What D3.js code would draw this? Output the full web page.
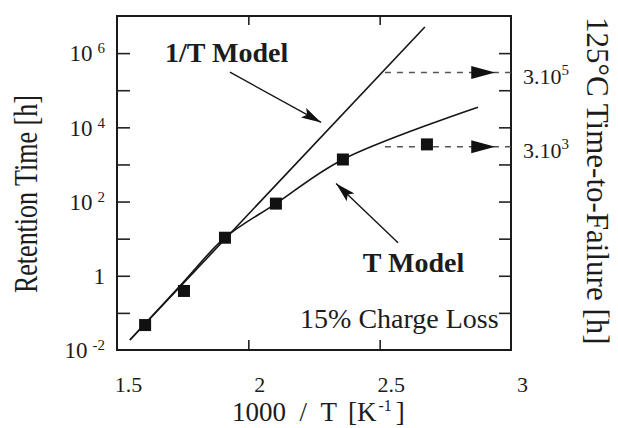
<!DOCTYPE html>
<html>
<head>
<meta charset="utf-8">
<script src="https://cdn.jsdelivr.net/npm/d3@7/dist/d3.min.js"></script>
<style>
  body { margin: 0; background: #fff; }
  svg text { font-family: "Liberation Serif", "Times New Roman", serif; fill: #1c1c1c; }
</style>
</head>
<body>
<script>
// measured retention times (squares), x = 1000/T
var measX = [1.607, 1.755, 1.911, 2.105, 2.360, 2.680];
var measY = [0.047, 0.39, 10.6, 88, 1360, 3470];

// T model fit
var tModelX = [1.549, 1.747, 1.911, 2.105, 2.360, 2.874];
var tModelY = [0.0186, 0.608, 10.6, 88, 1360, 34800];

// 1/T model fit (straight on this plot)
var invTX = [1.549, 2.672];
var invTY = [0.0186, 5.05e6];

var xTicks = [1.5, 2, 2.5, 3];
var xInnerTicks = [2, 2.5];
var yTickExp = [-1, 0, 1, 2, 3, 4, 5, 6];
var yLabelExp = [-2, 0, 2, 4, 6];

// 125C time-to-failure levels on the right
var failTimes = [3e5, 3e3];
var failBase = ["3.10", "3.10"];
var failSup = ["5", "3"];
var failStartX = 2.52, failHeadX = 2.94;

// annotation anchors, in data units
var notes = [
  {text: "1/T Model", x: 1.683, y: 5.7e5, bold: true},
  {text: "T Model", x: 2.436, y: 1.28, bold: true},
  {text: "15% Charge Loss", x: 2.197, y: 0.039, bold: false}
];
var pointers = [
  {from: [1.930, 3.06e5], to: [2.277, 1.36e4]},
  {from: [2.570, 7.8], to: [2.334, 306]}
];

var margin = {top: 16, right: 107, bottom: 78, left: 117},
    width = 618 - margin.left - margin.right,
    height = 428 - margin.top - margin.bottom;

var root = d3.select("body").append("svg")
    .attr("width", 618)
    .attr("height", 428);

var defs = root.append("defs");
defs.append("marker")
    .attr("id", "head")
    .attr("viewBox", "0 -6 20 12")
    .attr("refX", 20).attr("refY", 0)
    .attr("markerWidth", 20).attr("markerHeight", 12)
    .attr("markerUnits", "userSpaceOnUse")
    .attr("orient", "auto")
  .append("path")
    .attr("d", "M0,-5.5L20,0L0,5.5L4,0Z")
    .attr("fill", "#111");

var svg = root.append("g")
    .attr("transform", "translate(" + margin.left + "," + margin.top + ")");

var x = d3.scaleLinear().domain([1.5, 3]).range([0, width]);
var y = d3.scaleLog().domain([1e-2, 1e7]).range([height, 0]);

var decades = yTickExp.map(function(e) { return Math.pow(10, e); });

// axes with inward ticks
var gBottom = svg.append("g")
    .attr("transform", "translate(0," + height + ")")
    .call(d3.axisBottom(x).tickValues(xTicks).tickSize(-10).tickSizeOuter(0)
      .tickPadding(26).tickFormat(d3.format("")));
gBottom.selectAll("text").attr("font-size", 22).attr("dx", 11);
gBottom.selectAll(".tick").filter(function(d) { return xInnerTicks.indexOf(d) < 0; })
    .select("line").remove();

svg.append("g")
    .call(d3.axisTop(x).tickValues(xInnerTicks).tickSize(-9).tickSizeOuter(0).tickFormat(""));

svg.append("g")
    .call(d3.axisLeft(y).tickValues(decades).tickSize(-13).tickSizeOuter(0).tickFormat(""));

svg.append("g")
    .attr("transform", "translate(" + width + ",0)")
    .call(d3.axisRight(y).tickValues(decades).tickSize(-12).tickSizeOuter(0).tickFormat(""));

svg.selectAll(".domain").remove();
svg.selectAll(".tick line").attr("stroke", "#222").attr("stroke-width", 1.6);

svg.append("rect")
    .attr("width", width)
    .attr("height", height)
    .attr("fill", "none")
    .attr("stroke", "#1a1a1a")
    .attr("stroke-width", 2);

// left tick labels 10^n
var yLab = svg.append("g").selectAll("text")
    .data(yLabelExp)
  .enter().append("text")
    .attr("x", -12)
    .attr("y", function(e) { return y(Math.pow(10, e)); })
    .attr("dy", "0.36em")
    .attr("text-anchor", "end")
    .attr("font-size", 23);
yLab.append("tspan").text(function(e) { return e === 0 ? "1" : "10"; });
yLab.filter(function(e) { return e !== 0; }).append("tspan")
    .attr("dx", 5).attr("dy", -8)
    .attr("font-size", 15)
    .text(function(e) { return e; });

// lines
var line = d3.line()
    .x(function(d) { return x(d[0]); })
    .y(function(d) { return y(d[1]); });

svg.append("path")
    .datum(d3.zip(invTX, invTY))
    .attr("d", line)
    .attr("fill", "none")
    .attr("stroke", "#151515")
    .attr("stroke-width", 1.6);

svg.append("path")
    .datum(d3.zip(tModelX, tModelY))
    .attr("d", line.curve(d3.curveCatmullRom))
    .attr("fill", "none")
    .attr("stroke", "#151515")
    .attr("stroke-width", 1.6);

// dashed arrows to the right axis
var fail = svg.append("g").selectAll("g")
    .data(failTimes)
  .enter().append("g");
fail.append("line")
    .attr("x1", x(failStartX)).attr("x2", width)
    .attr("y1", function(d) { return y(d); })
    .attr("y2", function(d) { return y(d); })
    .attr("stroke", "#555")
    .attr("stroke-width", 1.3)
    .attr("stroke-dasharray", "6,6");
fail.append("path")
    .attr("d", function(d) {
      var tx = x(failHeadX), ty = y(d);
      return "M" + tx + "," + ty + "L" + (tx - 24) + "," + (ty - 6.5) + "L" + (tx - 24) + "," + (ty + 6.5) + "Z";
    })
    .attr("fill", "#111");

var failLab = svg.append("g").selectAll("text")
    .data(failTimes)
  .enter().append("text")
    .attr("x", width + 12)
    .attr("y", function(d) { return y(d); })
    .attr("dy", "0.5em")
    .attr("font-size", 22);
failLab.append("tspan").text(function(d, i) { return failBase[i]; });
failLab.append("tspan")
    .attr("dy", -9).attr("font-size", 15)
    .text(function(d, i) { return failSup[i]; });

// measured points
svg.append("g").selectAll("rect")
    .data(d3.zip(measX, measY))
  .enter().append("rect")
    .attr("x", function(d) { return x(d[0]) - 6; })
    .attr("y", function(d) { return y(d[1]) - 6; })
    .attr("width", 12)
    .attr("height", 12)
    .attr("fill", "#111");

// annotations
svg.append("g").selectAll("line")
    .data(pointers)
  .enter().append("line")
    .attr("x1", function(d) { return x(d.from[0]); })
    .attr("y1", function(d) { return y(d.from[1]); })
    .attr("x2", function(d) { return x(d.to[0]); })
    .attr("y2", function(d) { return y(d.to[1]); })
    .attr("stroke", "#151515")
    .attr("stroke-width", 1.4)
    .attr("marker-end", "url(#head)");

svg.append("g").selectAll("text")
    .data(notes)
  .enter().append("text")
    .attr("x", function(d) { return x(d.x); })
    .attr("y", function(d) { return y(d.y); })
    .attr("font-size", 28)
    .attr("font-weight", function(d) { return d.bold ? "bold" : "normal"; })
    .text(function(d) { return d.text; });

// axis titles
var xt = root.append("text")
    .attr("x", 232)
    .attr("y", 421)
    .attr("font-size", 27);
xt.append("tspan").text("1000\u2002/\u2002T");
xt.append("tspan").attr("dx", 11).text("[K");
xt.append("tspan").attr("dx", 2).attr("dy", -10).attr("font-size", 16).text("-1");
xt.append("tspan").attr("dx", 4).attr("dy", 10).text("]");

root.append("text")
    .attr("transform", "translate(37,293) scale(1.3,1) rotate(-90)")
    .attr("font-size", 26)
    .text("Retention Time [h]");

root.append("text")
    .attr("transform", "translate(587,17) rotate(90)")
    .attr("font-size", 31)
    .text("125\u00b0C Time-to-Failure [h]");
</script>
</body>
</html>
